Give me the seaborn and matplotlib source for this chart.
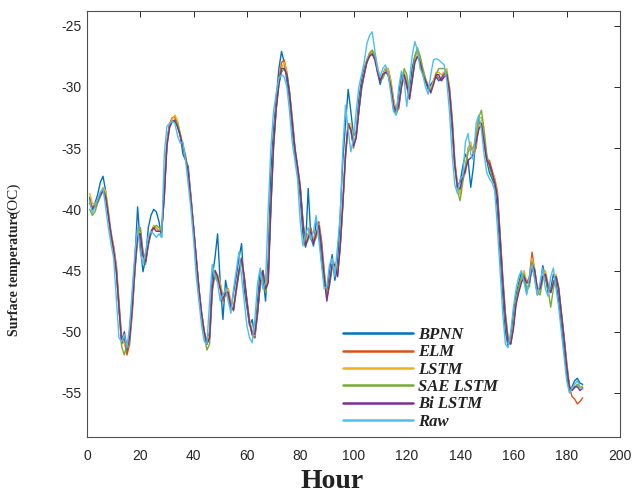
import numpy as np
import pandas as pd
import matplotlib
matplotlib.use("Agg")
import matplotlib.pyplot as plt
from matplotlib.lines import Line2D
from matplotlib.font_manager import FontProperties
import seaborn as sns

hours = list(range(1, 187))

raw = [-39.3,-40.3,-39.8,-39.2,-38.6,-38.3,-39.8,-41.5,-42.8,-44.0,
       -47.2,-50.5,-50.8,-50.2,-51.3,-49.5,-46.5,-43.5,-41.5,-43.5,
       -44.5,-43.5,-42.2,-41.8,-42.0,-42.3,-42.0,-42.3,-35.5,-33.2,
       -33.0,-32.8,-33.0,-34.0,-34.6,-34.5,-36.0,-38.0,-40.0,-42.5,
       -45.5,-47.5,-49.5,-50.8,-51.0,-47.5,-44.5,-45.5,-46.0,-47.5,
       -47.0,-46.5,-47.5,-48.5,-46.5,-45.0,-43.5,-45.5,-47.5,-49.5,
       -50.5,-50.9,-49.0,-46.0,-44.8,-46.5,-46.0,-40.0,-35.0,-32.0,
       -30.5,-29.3,-29.0,-29.2,-30.0,-32.0,-34.5,-36.0,-37.5,-41.0,
       -43.0,-42.0,-41.5,-42.5,-41.8,-40.5,-42.5,-44.5,-46.5,-46.3,
       -44.5,-44.0,-45.5,-43.0,-40.5,-35.0,-31.5,-33.5,-35.3,-34.2,
       -32.0,-30.0,-29.0,-28.0,-26.5,-25.8,-25.5,-27.0,-28.5,-29.2,
       -28.5,-28.2,-29.0,-30.5,-32.0,-32.3,-30.0,-28.7,-29.5,-31.6,
       -29.5,-27.5,-26.3,-27.0,-28.5,-29.0,-30.0,-30.6,-29.0,-27.8,
       -27.7,-27.8,-28.0,-28.2,-29.5,-32.0,-35.5,-38.0,-38.7,-37.5,
       -37.3,-34.5,-33.8,-35.5,-36.0,-33.0,-32.3,-33.5,-35.5,-37.0,
       -37.5,-37.8,-38.5,-41.5,-45.0,-48.5,-51.0,-51.3,-50.0,-48.0,
       -46.5,-45.5,-45.0,-46.0,-47.0,-45.5,-44.5,-45.8,-47.0,-46.0,
       -44.8,-46.5,-47.1,-45.5,-44.8,-46.5,-48.0,-50.0,-52.0,-54.0,
       -55.0,-54.6,-54.3,-54.0,-54.5,-54.7]

bpnn = [-39.0,-40.0,-39.5,-38.8,-37.8,-37.3,-38.5,-40.5,-42.0,-43.2,
        -45.0,-48.0,-51.0,-50.5,-51.7,-50.0,-47.0,-44.0,-39.8,-43.0,
        -45.1,-44.0,-41.5,-40.5,-40.0,-40.2,-41.0,-42.3,-38.0,-34.5,
        -33.0,-32.8,-32.7,-33.2,-34.0,-35.5,-36.0,-36.5,-39.0,-41.5,
        -44.0,-46.5,-48.5,-50.0,-51.0,-50.0,-45.5,-44.0,-42.0,-46.0,
        -49.0,-45.8,-47.0,-48.0,-46.8,-45.5,-44.0,-42.8,-46.5,-48.0,
        -49.5,-49.0,-50.5,-47.5,-45.0,-45.5,-47.5,-44.0,-37.0,-33.5,
        -31.0,-28.5,-27.1,-28.0,-29.5,-31.0,-33.5,-35.5,-36.8,-39.0,
        -42.0,-43.1,-38.3,-42.3,-43.0,-41.0,-41.5,-44.2,-46.0,-47.0,
        -45.0,-43.7,-45.8,-44.5,-40.5,-36.0,-33.0,-30.2,-32.0,-34.0,
        -33.7,-31.0,-29.5,-28.5,-27.8,-27.3,-27.0,-27.5,-28.8,-29.8,
        -29.0,-28.5,-29.0,-30.0,-31.8,-32.2,-30.5,-29.0,-29.0,-30.0,
        -30.5,-28.5,-27.5,-27.0,-28.0,-29.0,-29.5,-30.2,-29.8,-29.5,
        -29.2,-29.5,-29.3,-28.8,-29.0,-30.5,-33.5,-36.5,-38.0,-37.8,
        -36.5,-35.5,-36.0,-38.2,-36.5,-34.0,-32.8,-33.0,-34.5,-36.0,
        -37.0,-37.5,-38.0,-40.0,-43.5,-47.0,-50.0,-51.2,-50.5,-48.5,
        -47.0,-46.0,-45.2,-45.5,-46.8,-46.0,-44.8,-45.5,-47.0,-46.5,
        -44.6,-45.5,-46.8,-46.5,-45.3,-46.0,-47.5,-49.5,-51.5,-53.5,
        -54.8,-54.5,-54.0,-53.8,-54.2,-54.3]

elm = [-39.2,-39.8,-39.8,-39.3,-38.8,-38.3,-38.8,-40.3,-42.0,-43.0,
       -44.5,-47.5,-50.5,-50.8,-51.9,-51.0,-48.5,-45.0,-42.5,-41.5,
       -43.5,-44.0,-42.8,-42.0,-41.5,-41.5,-41.8,-41.8,-39.0,-34.5,
       -33.0,-32.5,-32.5,-33.0,-34.0,-34.8,-35.8,-37.0,-39.0,-41.5,
       -44.0,-46.5,-48.5,-50.0,-51.0,-50.5,-46.5,-45.0,-45.5,-46.5,
       -47.5,-47.0,-46.5,-47.8,-48.3,-46.5,-45.2,-44.0,-45.5,-47.5,
       -49.3,-50.3,-50.5,-48.5,-46.0,-45.0,-46.5,-45.5,-39.5,-34.5,
       -31.5,-29.5,-28.0,-27.8,-28.8,-30.5,-32.5,-35.0,-36.5,-38.0,
       -41.0,-43.0,-42.0,-41.5,-42.5,-42.0,-41.0,-42.5,-45.0,-47.3,
       -46.0,-44.5,-44.5,-45.5,-43.0,-39.5,-35.5,-33.0,-33.5,-35.0,
       -34.0,-32.0,-30.0,-29.0,-28.0,-27.5,-27.3,-27.5,-28.5,-29.5,
       -29.0,-28.5,-28.5,-29.5,-31.0,-32.0,-31.8,-30.0,-29.0,-30.0,
       -31.0,-29.5,-28.0,-27.5,-27.8,-28.8,-29.5,-30.0,-30.3,-29.5,
       -29.0,-29.3,-29.5,-29.0,-28.8,-30.0,-32.5,-36.0,-38.0,-38.5,
       -37.5,-37.0,-35.0,-34.8,-35.5,-35.0,-33.0,-33.0,-34.5,-36.0,
       -36.0,-36.8,-37.5,-38.5,-42.0,-45.5,-48.5,-50.5,-51.0,-49.5,
       -47.5,-46.5,-45.8,-45.3,-46.0,-45.5,-43.5,-45.0,-46.8,-46.5,
       -45.5,-45.5,-46.5,-46.8,-46.0,-45.5,-46.5,-48.5,-50.5,-52.5,
       -54.5,-55.3,-55.5,-55.9,-55.7,-55.4]

lstm = [-38.7,-39.5,-39.6,-39.2,-38.8,-38.2,-38.5,-40.0,-41.8,-43.0,
        -44.8,-47.8,-50.5,-51.0,-51.0,-50.5,-48.0,-45.0,-42.0,-41.8,
        -43.8,-44.2,-42.8,-41.8,-41.3,-41.5,-41.8,-41.5,-38.5,-34.5,
        -33.2,-32.6,-32.3,-32.8,-33.8,-34.8,-35.5,-37.0,-39.0,-41.5,
        -44.0,-46.3,-48.5,-50.0,-50.8,-50.2,-46.5,-45.0,-45.3,-46.0,
        -47.0,-46.8,-46.5,-47.5,-47.8,-46.5,-45.0,-44.0,-45.5,-47.3,
        -49.0,-50.0,-50.3,-48.5,-46.0,-45.0,-46.2,-45.5,-39.5,-34.8,
        -31.8,-29.8,-28.5,-28.0,-28.8,-30.3,-32.5,-34.8,-36.5,-38.0,
        -40.8,-42.8,-42.0,-41.8,-42.5,-41.8,-41.2,-42.8,-45.0,-47.0,
        -46.0,-44.5,-44.3,-45.2,-43.0,-39.5,-35.5,-33.0,-33.0,-34.5,
        -34.0,-31.8,-30.0,-28.8,-27.8,-27.2,-27.0,-27.3,-28.3,-29.3,
        -29.0,-28.5,-28.5,-29.5,-31.0,-32.2,-31.5,-29.8,-28.8,-29.5,
        -30.8,-29.5,-27.8,-27.0,-27.5,-28.5,-29.3,-29.8,-30.2,-29.5,
        -28.8,-28.8,-29.0,-28.8,-28.5,-30.0,-32.5,-36.0,-38.0,-38.8,
        -37.5,-36.5,-35.0,-34.5,-35.5,-34.8,-32.5,-32.5,-34.0,-35.8,
        -36.5,-37.0,-37.5,-38.8,-42.0,-45.5,-48.5,-50.5,-50.8,-49.5,
        -47.5,-46.5,-45.8,-45.0,-46.0,-46.0,-44.0,-44.8,-46.5,-46.8,
        -45.5,-45.0,-46.0,-46.8,-46.0,-45.3,-46.3,-48.3,-50.3,-52.5,
        -54.3,-54.8,-54.5,-54.3,-54.6,-54.4]

sae_lstm = [-40.0,-40.5,-40.2,-39.5,-39.0,-38.5,-38.8,-40.3,-42.3,-43.5,
            -45.0,-48.0,-51.2,-51.9,-51.0,-50.8,-48.0,-44.8,-41.8,-41.5,
            -43.5,-44.5,-43.0,-42.0,-41.5,-41.3,-41.5,-41.8,-38.8,-34.8,
            -33.3,-32.8,-32.8,-33.0,-33.8,-35.0,-35.8,-37.3,-39.3,-41.8,
            -44.3,-46.8,-48.8,-50.3,-51.5,-51.0,-46.8,-45.3,-45.8,-46.3,
            -47.3,-47.0,-47.0,-48.0,-48.0,-46.8,-45.3,-44.3,-45.8,-47.5,
            -49.3,-50.0,-50.0,-48.3,-46.3,-45.5,-46.8,-45.8,-40.0,-35.0,
            -31.8,-29.8,-28.8,-28.5,-29.0,-30.5,-32.8,-35.0,-36.8,-38.3,
            -41.0,-43.0,-42.5,-42.0,-42.8,-42.3,-41.5,-43.0,-45.3,-47.0,
            -46.3,-44.8,-44.5,-45.3,-43.3,-39.8,-35.8,-33.3,-33.5,-34.8,
            -34.0,-32.0,-30.3,-29.0,-28.0,-27.3,-27.0,-27.5,-28.5,-29.5,
            -29.3,-28.8,-29.0,-29.8,-31.5,-32.3,-31.5,-29.8,-28.5,-29.0,
            -30.5,-29.3,-27.5,-26.8,-27.5,-28.5,-29.3,-30.0,-30.3,-29.8,
            -29.0,-28.5,-28.5,-28.5,-28.8,-30.3,-33.0,-36.5,-38.5,-39.3,
            -37.8,-36.5,-35.3,-35.0,-35.0,-34.0,-32.5,-31.9,-33.5,-35.5,
            -36.5,-37.3,-37.8,-39.0,-42.3,-46.0,-49.0,-51.0,-51.0,-49.5,
            -47.5,-46.3,-45.5,-45.3,-46.5,-46.3,-44.3,-45.0,-46.8,-47.0,
            -45.8,-45.3,-46.5,-48.0,-46.5,-45.5,-46.5,-48.5,-50.5,-52.8,
            -54.5,-54.8,-54.6,-54.3,-54.5,-54.6]

bi_lstm = [-39.5,-40.0,-39.8,-39.3,-38.8,-38.5,-39.0,-40.5,-42.0,-43.3,
           -45.0,-48.0,-50.8,-50.0,-51.3,-50.5,-48.0,-44.8,-42.0,-42.0,
           -43.8,-44.3,-42.8,-41.8,-41.5,-41.8,-41.8,-41.8,-39.0,-34.8,
           -33.3,-32.8,-32.8,-33.3,-34.0,-34.8,-35.8,-37.0,-39.2,-41.5,
           -44.0,-46.5,-48.5,-50.0,-51.0,-50.5,-46.5,-45.0,-45.5,-46.5,
           -47.3,-46.8,-46.8,-48.0,-48.2,-46.5,-45.0,-44.0,-45.5,-47.5,
           -49.3,-50.2,-50.2,-48.5,-46.0,-45.0,-46.5,-46.0,-39.8,-34.8,
           -31.8,-29.8,-28.5,-28.5,-29.0,-30.5,-32.8,-35.0,-36.5,-38.2,
           -41.0,-43.0,-42.3,-41.8,-42.8,-42.0,-41.3,-43.0,-45.5,-47.5,
           -46.0,-44.5,-44.5,-45.5,-43.0,-39.5,-35.5,-33.0,-33.5,-34.8,
           -34.2,-32.0,-30.0,-29.0,-28.0,-27.5,-27.3,-27.8,-28.8,-29.5,
           -29.0,-28.8,-29.0,-30.0,-31.5,-32.0,-31.5,-30.0,-29.0,-29.8,
           -31.0,-29.5,-28.0,-27.5,-28.0,-29.0,-29.5,-30.0,-30.5,-29.8,
           -29.0,-29.0,-29.5,-29.2,-29.0,-30.3,-32.8,-36.3,-38.2,-38.3,
           -37.3,-36.8,-36.0,-35.8,-35.5,-34.5,-33.5,-33.0,-34.5,-36.0,
           -36.3,-37.0,-37.8,-39.0,-42.3,-45.8,-48.8,-50.8,-51.0,-49.8,
           -47.8,-46.8,-46.0,-45.5,-46.0,-46.0,-44.5,-45.0,-46.5,-46.5,
           -45.5,-45.3,-46.3,-46.8,-46.0,-45.5,-46.5,-48.5,-50.5,-52.8,
           -54.5,-54.8,-54.5,-54.5,-54.8,-54.6]

series_names = ["BPNN", "ELM", "LSTM", "SAE LSTM", "Bi LSTM", "Raw"]
series_values = [bpnn, elm, lstm, sae_lstm, bi_lstm, raw]
series_colors = ["#0072BD", "#D95319", "#EDB120", "#77AC30", "#7E2F8E", "#4DBEEE"]
x_ticks = [0, 20, 40, 60, 80, 100, 120, 140, 160, 180, 200]
y_ticks = [-55, -50, -45, -40, -35, -30, -25]

for v in series_values:
    assert len(v) == len(hours), len(v)

sns.set_style("white")
plt.rcParams['font.family'] = ['Liberation Sans', 'DejaVu Sans']
plt.rcParams['axes.unicode_minus'] = False

rows = []
for name, vals in zip(series_names, series_values):
    for h, t in zip(hours, vals):
        rows.append((h, t, name))
df = pd.DataFrame(rows, columns=["Hour", "Temp", "Model"])

fig = plt.figure(figsize=(6.35, 4.99), dpi=100)
ax = fig.add_axes([87/635, 1 - 437/499, 533/635, 426/499])

sns.lineplot(data=df, x="Hour", y="Temp", hue="Model", hue_order=series_names,
             palette=dict(zip(series_names, series_colors)), estimator=None,
             linewidth=1.0, legend=False, ax=ax)

ax.set_xlim(0, 200)
ax.set_ylim(-58.6, -23.8)
ax.set_xticks(x_ticks)
ax.set_yticks(y_ticks)
ax.set_xlabel("")
ax.set_ylabel("")
ax.tick_params(direction='in', top=True, right=True, length=4, width=0.7,
               labelsize=10, colors='#262626')
ax.tick_params(axis='x', pad=9)
ax.tick_params(axis='y', pad=4)
for sp in ax.spines.values():
    sp.set_visible(True)
    sp.set_color('#505050')
    sp.set_linewidth(0.8)

handles = [Line2D([], [], color=c, lw=1.8) for c in series_colors]
leg = ax.legend(handles, series_names, loc='upper left', bbox_to_anchor=(0.48, 0.258),
                frameon=False, borderpad=0, borderaxespad=0,
                prop=FontProperties(family='Liberation Serif', weight='bold', style='italic', size=12),
                handlelength=4.2, handletextpad=0.3, labelspacing=0.08)
for t in leg.get_texts():
    t.set_color('#222222')

fig.text(15/635, 1 - 274.5/499, "Surface temperature", rotation=90, ha='center', va='center',
         family='Liberation Serif', weight='bold', size=10, color='#222222')
fig.text(14/635, 1 - 198/499, "(OC)", rotation=90, ha='center', va='center',
         family='Liberation Serif', size=11, color='#222222')
fig.text(332/635, 1 - 482/499, "Hour", ha='center', va='center',
         family='Liberation Serif', weight='bold', size=20, color='#222222')

fig.savefig("out.png", dpi=100, facecolor='white')
